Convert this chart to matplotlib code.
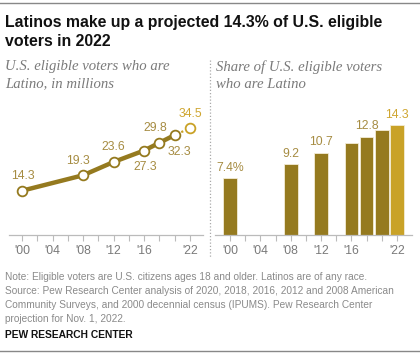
import numpy as np
import matplotlib.pyplot as plt
from matplotlib.lines import Line2D

# Daten
jahre = [2000, 2008, 2012, 2016, 2018, 2020, 2022]
waehler_mio = [14.3, 19.3, 23.6, 27.3, 29.8, 32.3, 34.5]
anteil = [7.4, 9.2, 10.7, 11.9, 12.8, 13.6, 14.3]
anteil_labels = ['7.4%', '9.2', '10.7', '', '12.8', '', '14.3']
tick_jahre = list(range(2000, 2023, 2))
tick_labels = {2000: "'00", 2004: "'04", 2008: "'08", 2012: "'12", 2016: "'16", 2022: "'22"}

# Farben
DUNKEL = '#957A1F'
HELL = '#C9A227'
LABEL_DUNKEL = '#A68C42'
LABEL_HELL = '#CFA630'
GRAU = '#7a7a7a'

W, H = 420, 354
fig = plt.figure(figsize=(W / 100, H / 100), dpi=100)


def px_axes(left, top, right, bottom):
    # Pixelkoordinaten (von oben) in Figure-Anteile umrechnen
    return fig.add_axes([left / W, 1 - bottom / H, (right - left) / W, (bottom - top) / H])


def style_axis(ax):
    for s in ['top', 'right', 'left']:
        ax.spines[s].set_visible(False)
    ax.spines['bottom'].set_color('#bbbbbb')
    ax.spines['bottom'].set_linewidth(0.9)
    ax.set_yticks([])
    ax.set_xticks(tick_jahre)
    ax.set_xticklabels([tick_labels.get(j, '') for j in tick_jahre],
                       fontsize=8.8, color=GRAU, family='Liberation Sans')
    ax.tick_params(axis='x', length=4, width=0.8, color='#bbbbbb', pad=3)
    ax.patch.set_alpha(0)


# Linie: Anzahl in Millionen
ax1 = px_axes(9, 105, 203, 235)
ax1.set_xlim(1998.3, 2023.7)
ax1.set_ylim(0, 42)
style_axis(ax1)
ax1.plot(jahre[:-1], waehler_mio[:-1], color=DUNKEL, linewidth=3.2, zorder=2,
         solid_capstyle='round')
ax1.plot(jahre[-2:], waehler_mio[-2:], color=HELL, linewidth=1.6, linestyle=(0, (1, 2.2)), zorder=2)
ax1.plot(jahre[:-1], waehler_mio[:-1], 'o', markersize=7, markerfacecolor='white',
         markeredgecolor=DUNKEL, markeredgewidth=1.3, zorder=3)
ax1.plot(jahre[-1], waehler_mio[-1], 'o', markersize=7, markerfacecolor='white',
         markeredgecolor=HELL, markeredgewidth=1.3, zorder=3)

offsets = [(1, 10.5), (-4, 10.5), (0, 10.5), (1, -12), (-3, 10.5), (3, -12), (0, 10.5)]
for j, v, (dx, dy) in zip(jahre, waehler_mio, offsets):
    farbe = LABEL_HELL if j == 2022 else LABEL_DUNKEL
    ax1.annotate(f'{v}', (j, v), xytext=(dx, dy), textcoords='offset points',
                 ha='center', va='center', fontsize=8.8, color=farbe, family='Liberation Sans')

# Balken: Anteil
ax2 = px_axes(215, 105, 412, 235)
ax2.set_xlim(1998, 2024)
ax2.set_ylim(0, 16.9)
style_axis(ax2)
farben = [DUNKEL] * (len(jahre) - 1) + [HELL]
ax2.bar(jahre, anteil, width=1.8, color=farben, edgecolor='#f3ecd6', linewidth=0.6, zorder=2)
for j, v, lab in zip(jahre, anteil, anteil_labels):
    if lab:
        farbe = LABEL_HELL if j == 2022 else LABEL_DUNKEL
        ax2.annotate(lab, (j, v), xytext=(0, 7.5), textcoords='offset points',
                     ha='center', va='center', fontsize=8.8, color=farbe, family='Liberation Sans')

# Trennlinie
fig.add_artist(Line2D([210 / W, 210 / W], [1 - 60 / H, 1 - 258 / H], color='#aaaaaa',
                      linewidth=0.9, linestyle=(0, (1, 1.6))))

# Rahmenlinien
fig.add_artist(Line2D([0, 1], [1 - 2.5 / H, 1 - 2.5 / H], color='#888888', linewidth=1.0))
fig.add_artist(Line2D([0, 1], [1 - 351 / H, 1 - 351 / H], color='#888888', linewidth=1.0))

# Titel
fig.text(5 / W, 1 - 15 / H, 'Latinos make up a projected 14.3% of U.S. eligible\nvoters in 2022',
         ha='left', va='top', fontsize=11.4, fontweight='bold', color='#111111',
         family='Liberation Sans', linespacing=1.35)

# Untertitel
fig.text(5 / W, 1 - 60 / H, 'U.S. eligible voters who are\nLatino, in millions',
         ha='left', va='top', fontsize=10.6, style='italic', color='#7a7a7a',
         family='Liberation Serif', linespacing=1.4)
fig.text(216 / W, 1 - 60 / H, 'Share of U.S. eligible voters\nwho are Latino',
         ha='left', va='top', fontsize=10.6, style='italic', color='#7a7a7a',
         family='Liberation Serif', linespacing=1.4)

# Fußnote
note = ('Note: Eligible voters are U.S. citizens ages 18 and older. Latinos are of any race.\n'
        'Source: Pew Research Center analysis of 2020, 2018, 2016, 2012 and 2008 American\n'
        'Community Surveys, and 2000 decennial census (IPUMS). Pew Research Center\n'
        'projection for Nov. 1, 2022.')
fig.text(5 / W, 1 - 272 / H, note, ha='left', va='top', fontsize=7.3, color='#8a8a8a',
         family='Liberation Sans', linespacing=1.5)
fig.text(5 / W, 1 - 335 / H, 'PEW RESEARCH CENTER', ha='left', va='center', fontsize=7.4,
         fontweight='bold', color='#111111', family='Liberation Sans')

fig.savefig('out.png', dpi=100)
